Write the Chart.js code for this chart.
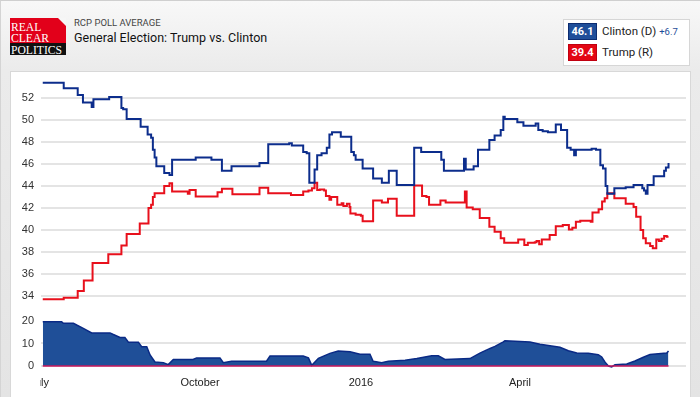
<!DOCTYPE html>
<html>
<head>
<meta charset="utf-8">
<script src="https://cdn.jsdelivr.net/npm/chart.js@4/dist/chart.umd.min.js"></script>
<style>
  body { margin: 0; width: 700px; height: 397px; overflow: hidden; position: relative;
         background: linear-gradient(#f8f8f8, #ebebeb 70px, #e4e4e4); font-family: Roboto, "Liberation Sans", Arial, sans-serif; }
  #frame { position: absolute; left: 0; top: 0; width: 699px; height: 397px; border-top: 1px solid #cfcfcf; border-left: 1px solid #d4d4d4; }
  #logo { position: absolute; left: 10px; top: 18px; width: 56px; height: 37px; font-family: "Liberation Serif", "DejaVu Serif", serif; color: #fff; overflow: hidden; }
  #logo .red { position: absolute; left: 0; top: 0; width: 56px; height: 25px; background: #e2001a; }
  #logo .blk { position: absolute; left: 0; top: 25px; width: 56px; height: 12px; background: #111; }
  #logo .fold { position: absolute; right: 0; top: 0; width: 0; height: 0; border-top: 8px solid #f6f6f6; border-left: 8px solid transparent; }
  #logo span { position: absolute; left: 1px; font-size: 13.5px; line-height: 11px; transform: scaleX(0.86); transform-origin: left; white-space: nowrap; }
  #kicker { position: absolute; left: 74px; top: 17px; font-size: 9.5px; color: #444; }
  #title { position: absolute; left: 74px; top: 30px; font-size: 12.5px; color: #111; }
  #legend { position: absolute; left: 563px; top: 19px; width: 127px; height: 47px; background: #fff; border: 1px solid #d6d6d6; box-sizing: border-box; }
  .badge { position: absolute; left: 4px; width: 29px; height: 17px; box-sizing: border-box; color: #fff; font-weight: bold; font-size: 11px; line-height: 15px; text-align: center; }
  .name { position: absolute; left: 38px; font-size: 11.5px; color: #222; line-height: 17px; }
  #panel { position: absolute; left: 10px; top: 71px; width: 681px; height: 340px; background: #fff; border: 1px solid #d8d8d8; box-sizing: border-box; }
  canvas { position: absolute; left: 0; top: 0; }
</style>
</head>
<body>
<div id="frame"></div>
<div id="logo">
  <div class="red"></div><div class="blk"></div><div class="fold"></div>
  <span style="top:3px">REAL</span>
  <span style="top:14px">CLEAR</span>
  <span style="top:26px">POLITICS</span>
</div>
<div id="kicker">RCP POLL AVERAGE</div>
<div id="title">General Election: Trump vs. Clinton</div>
<div id="legend">
  <div class="badge" style="top:3px;background:#1f4e99;border:1px solid #0c2c70">46.1</div>
  <div class="name" style="top:3px">Clinton (D) <span style="font-size:9.5px;color:#1f4e99">+6.7</span></div>
  <div class="badge" style="top:24px;background:#e30613;border:1px solid #c00010">39.4</div>
  <div class="name" style="top:24px">Trump (R)</div>
</div>
<div id="panel"></div>
<canvas id="mainChart" width="700" height="397"></canvas>
<canvas id="spreadChart" width="700" height="397"></canvas>
<script>
// days counted from July 1, 2015
var clintonDays = [2, 14, 22, 25, 30, 31, 40, 47, 48, 50, 58, 62, 64, 65, 66, 67, 71.5, 74.5, 76, 89.5,
  98.5, 104.5, 110, 126, 131, 143, 144.5, 151, 153, 154.5, 157.5, 159, 161.5, 164.5, 166, 167.5, 172.5,
  178.5, 180, 181, 185, 191, 196, 200, 204.5, 214.5, 218.5, 230, 231.5, 243, 244, 248.5, 251, 257.5,
  260.5, 264, 265.5, 266.3, 273.5, 277, 284, 285.5, 288, 291, 295.5, 298.5, 302, 304, 306, 307, 316,
  318.5, 321, 322.5, 324, 325, 329, 335.5, 340, 345, 346, 347, 348, 351.5, 357.5, 358.5, 360];
var clintonPct = [53.4, 52.9, 52.3, 51.6, 51.2, 51.9, 52.1, 51.1, 51.0, 50.1, 49.4, 48.7, 48.4, 47.3, 46.6,
  45.8, 45.2, 45.0, 46.4, 46.6, 46.4, 45.4, 45.8, 46.1, 47.8, 47.9, 47.7, 47.1, 47.0, 44.3, 45.5, 46.8,
  47.0, 47.5, 48.7, 48.9, 48.5, 47.1, 46.8, 46.4, 45.6, 44.7, 44.3, 45.4, 44.1, 47.5, 47.1, 46.4, 45.4,
  46.5, 45.5, 45.8, 47.3, 48.2, 48.6, 49.1, 50.3, 50.1, 49.8, 49.5, 49.7, 49.1, 49.0, 48.9, 49.6, 49.1,
  47.5, 47.3, 46.8, 47.3, 47.4, 47.3, 45.9, 45.6, 44.0, 43.3, 43.8, 43.9, 44.1, 43.8, 43.6, 43.3, 44.1,
  44.9, 45.4, 45.7, 46.1];

var trumpDays = [2, 14, 22, 25.5, 30.5, 39.5, 47, 50, 57.5, 62.5, 64, 65, 66, 71.5, 74.5, 76, 85, 86, 89.5,
  102, 104.5, 110.5, 126, 131, 144, 151, 154, 156, 157.5, 159, 160.5, 163, 164, 166, 167, 170.5, 173, 174,
  176, 177.5, 178, 181, 184, 185, 191, 196, 199.5, 204.5, 214.5, 219, 221.5, 223, 229.5, 232.5, 243.5,
  244.5, 248, 252, 257.5, 260.5, 264, 266, 274, 277.5, 279.5, 283.5, 284.5, 286, 287.5, 292, 295.5, 299.5,
  303, 305, 307, 309.5, 315.5, 316.5, 320, 322, 323.5, 325, 329, 335.5, 340, 341.5, 344, 345.5, 347,
  349.5, 351, 353, 354.5, 356, 357.5, 359, 360];
var trumpPct = [33.7, 33.85, 34.45, 35.4, 37.0, 37.8, 38.6, 39.65, 40.6, 42.0, 42.3, 43.0, 43.35, 44.0,
  44.25, 43.5, 43.3, 43.65, 43.05, 43.45, 43.75, 43.25, 43.85, 43.35, 43.2, 43.5, 43.6, 43.8, 44.3,
  43.65, 43.7, 43.6, 43.1, 42.75, 43.0, 42.3, 42.45, 42.2, 42.4, 42.1, 41.5, 41.4, 41.3, 40.8, 42.7,
  42.5, 42.85, 41.3, 44.05, 43.1, 43.0, 42.3, 42.7, 42.5, 43.5, 42.05, 41.9, 41.1, 40.3, 39.85, 39.25,
  38.85, 39.15, 38.65, 38.85, 38.9, 39.0, 38.7, 39.15, 39.55, 40.35, 40.45, 40.05, 40.2, 40.75, 40.85,
  40.75, 41.6, 41.9, 42.6, 42.9, 43.35, 42.9, 42.4, 42.1, 41.2, 40.0, 39.25, 38.8, 38.55, 38.35, 39.15,
  39.0, 39.2, 39.45, 39.4, 39.4];

var spreadDays = [2, 12.8, 13.8, 19.5, 21.4, 25.2, 30, 40.5, 42.4, 46.2, 49, 51, 56.7, 58.6, 61.5, 63.4,
  66.2, 71, 73.8, 76.7, 88, 90, 103.4, 105.3, 110, 130, 132, 151, 154, 155.9, 159.7, 166.3, 171, 177.8,
  183.5, 189.2, 191, 195.9, 199.7, 209.3, 216, 224.5, 228.3, 232.1, 246.4, 252.1, 257.9, 260.7, 265.5,
  266.4, 272.2, 280.7, 286.5, 292.2, 297.9, 302.7, 307.5, 314.1, 319.8, 321.8, 323.7, 325.6, 327.5,
  329.4, 336.1, 340.8, 345.6, 349.4, 359, 360];
var spreadPts = [19.7, 19.7, 19.0, 19.0, 18.2, 16.7, 14.7, 14.7, 14.0, 12.7, 12.7, 10.6, 10.6, 8.6, 8.6,
  4.9, 1.8, 1.5, 0.6, 2.9, 2.9, 3.6, 3.6, 1.5, 2.1, 2.1, 4.4, 4.4, 3.6, 0.3, 3.4, 5.6, 6.7, 6.3, 5.2,
  5.2, 2.1, 1.5, 2.1, 2.6, 3.3, 4.5, 4.5, 2.9, 3.3, 5.7, 7.8, 8.7, 10.7, 11.2, 11.0, 10.7, 9.7, 9.0,
  8.3, 6.8, 5.8, 5.7, 5.0, 4.0, 1.7, 0, -0.4, 0.6, 0.9, 2.2, 3.9, 5.1, 5.8, 6.7];

var pctTicks = [34, 36, 38, 40, 42, 44, 46, 48, 50, 52];
var spreadTicks = [0, 5, 10, 15, 20];
var monthDays = [0, 92, 184, 275];
var monthLabels = ['July', 'October', '2016', 'April'];

function pairs(xs, ys) {
  var out = [];
  for (var i = 0; i < xs.length; i++) out.push({x: xs[i], y: ys[i]});
  return out;
}

Chart.defaults.font.family = '"Liberation Sans", Arial, sans-serif';
Chart.defaults.font.size = 11;
Chart.defaults.color = '#333';

var xAxis = { type: 'linear', min: 1, max: 370, display: false };

new Chart(document.getElementById('mainChart'), {
  type: 'line',
  data: {
    datasets: [
      { label: 'Clinton (D)', data: pairs(clintonDays, clintonPct), borderColor: '#0c2d8c', borderWidth: 2, stepped: true, pointRadius: 0 },
      { label: 'Trump (R)', data: pairs(trumpDays, trumpPct), borderColor: '#e8101c', borderWidth: 2, stepped: true, pointRadius: 0 }
    ]
  },
  options: {
    responsive: false, animation: false,
    layout: { padding: { top: 74, bottom: 95.5, left: 0, right: 14 } },
    plugins: { legend: { display: false }, tooltip: { enabled: false } },
    scales: {
      x: xAxis,
      y: {
        min: 33.5, max: 54.2,
        afterBuildTicks: function(s) { s.ticks = pctTicks.map(function(v){ return {value: v}; }); },
        afterFit: function(s) { s.width = 41; },
        border: { display: false },
        grid: { color: '#e4e4e4', lineWidth: 2, drawTicks: false },
        ticks: { padding: 7, color: '#333' }
      }
    }
  }
});

// month labels under the spread panel, clipped at the plot's left edge
var monthLabelPlugin = {
  id: 'monthLabels',
  afterDraw: function(chart) {
    var ctx = chart.ctx, xs = chart.scales.x, area = chart.chartArea;
    ctx.save();
    ctx.beginPath();
    ctx.rect(area.left - 1, area.bottom, area.right - area.left + 20, 40);
    ctx.clip();
    ctx.font = '11px "Liberation Sans", Arial, sans-serif';
    ctx.fillStyle = '#222';
    ctx.textAlign = 'center';
    ctx.textBaseline = 'middle';
    for (var i = 0; i < monthDays.length; i++) {
      ctx.fillText(monthLabels[i], xs.getPixelForValue(monthDays[i]), area.bottom + 15);
    }
    ctx.restore();
  }
};

new Chart(document.getElementById('spreadChart'), {
  type: 'line',
  data: {
    datasets: [
      { label: 'base', data: pairs([spreadDays[0], spreadDays[spreadDays.length - 1]], [0, 0]), borderColor: '#c8175d', borderWidth: 1.5, pointRadius: 0, fill: false },
      { label: 'Spread', data: pairs(spreadDays, spreadPts), borderColor: '#0a2a85', borderWidth: 1.5, pointRadius: 0,
        fill: { target: 'origin', above: '#1f4f98', below: '#f6b6c2' } }
    ]
  },
  options: {
    responsive: false, animation: false,
    layout: { padding: { top: 311.5, bottom: 28.75, left: 0, right: 14 } },
    plugins: { legend: { display: false }, tooltip: { enabled: false } },
    scales: {
      x: xAxis,
      y: {
        min: -1, max: 24.2,
        afterBuildTicks: function(s) {
          s.ticks = spreadTicks.map(function(v){ return {value: v}; }).concat([{value: s.max}]);
        },
        afterFit: function(s) { s.width = 41; },
        border: { display: false },
        grid: {
          drawTicks: false,
          lineWidth: function(c) { return c.tick && c.tick.value === 24.2 ? 1.5 : 2; },
          color: function(c) {
            if (!c.tick) return '#e4e4e4';
            if (c.tick.value === 24.2) return '#8e8e8e';
            if (c.tick.value === 20) return 'rgba(0,0,0,0)';
            return '#e4e4e4';
          }
        },
        ticks: { padding: 7, color: '#333', callback: function(v) { return v > 20 ? '' : v; } }
      }
    }
  },
  plugins: [monthLabelPlugin]
});
</script>
</body>
</html>
